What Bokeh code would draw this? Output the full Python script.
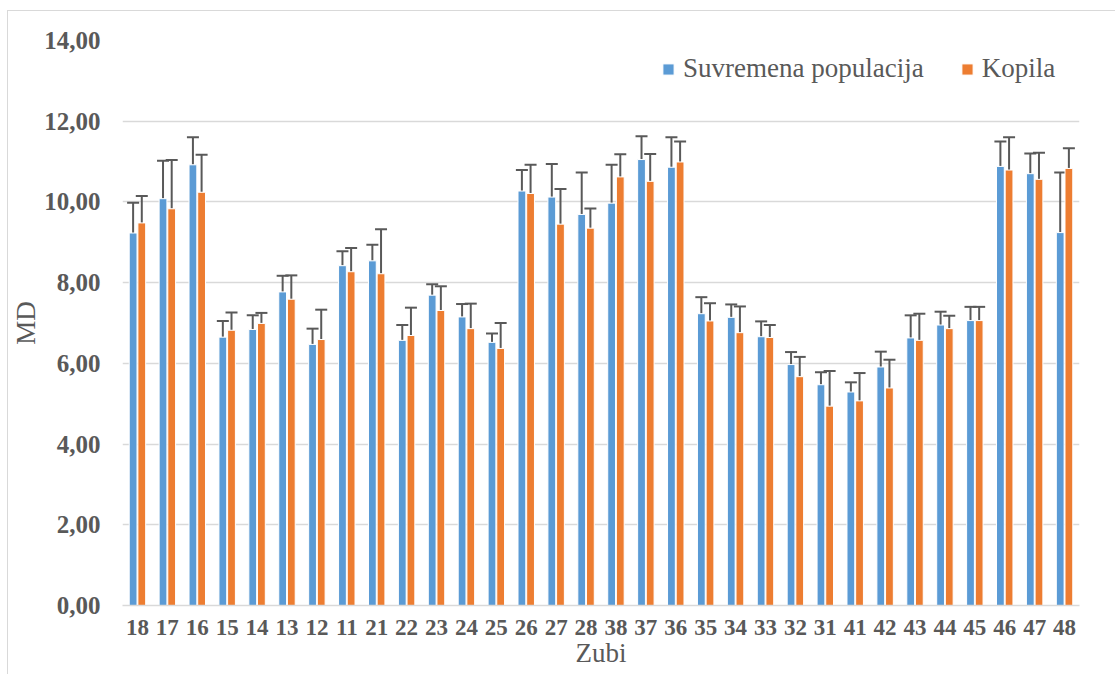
from bokeh.plotting import figure
from bokeh.models import (ColumnDataSource, FactorRange, Range1d, Whisker, TeeHead,
                          FixedTicker, Legend, LegendItem)
from bokeh.transform import dodge
from bokeh.embed import file_html
from bokeh.resources import INLINE

teeth = ["18", "17", "16", "15", "14", "13", "12", "11", "21", "22", "23", "24", "25", "26", "27", "28",
         "38", "37", "36", "35", "34", "33", "32", "31", "41", "42", "43", "44", "45", "46", "47", "48"]

modern_mean = [9.23, 10.08, 10.92, 6.65, 6.84, 7.77, 6.47, 8.42, 8.54, 6.57, 7.69, 7.15, 6.52, 10.27, 10.12, 9.69,
               9.97, 11.05, 10.86, 7.23, 7.14, 6.66, 5.97, 5.47, 5.29, 5.91, 6.63, 6.95, 7.06, 10.88, 10.70, 9.24]
modern_sd = [0.75, 0.94, 0.68, 0.40, 0.35, 0.40, 0.39, 0.36, 0.40, 0.38, 0.27, 0.32, 0.22, 0.52, 0.82, 1.04,
             0.95, 0.58, 0.74, 0.41, 0.32, 0.38, 0.31, 0.31, 0.24, 0.38, 0.56, 0.33, 0.34, 0.62, 0.50, 1.49]

kopila_mean = [9.48, 9.83, 10.24, 6.82, 6.99, 7.59, 6.59, 8.27, 8.22, 6.69, 7.31, 6.86, 6.37, 10.21, 9.45, 9.35,
               10.62, 10.51, 10.99, 7.05, 6.76, 6.64, 5.67, 4.94, 5.07, 5.39, 6.57, 6.86, 7.06, 10.79, 10.56, 10.83]
kopila_sd = [0.67, 1.21, 0.93, 0.44, 0.26, 0.59, 0.74, 0.59, 1.10, 0.69, 0.60, 0.62, 0.63, 0.71, 0.87, 0.49,
             0.56, 0.68, 0.51, 0.44, 0.65, 0.31, 0.49, 0.87, 0.69, 0.70, 0.66, 0.32, 0.34, 0.81, 0.66, 0.50]

series_names = ["Suvremena populacija", "Kopila"]
y_ticks = [0, 2, 4, 6, 8, 10, 12, 14]
y_tick_labels = ["0,00", "2,00", "4,00", "6,00", "8,00", "10,00", "12,00", "14,00"]

BLUE = "#5B9BD5"
ORANGE = "#ED7D31"
GRAY = "#595959"
GRID = "#D9D9D9"
FONT = "Liberation Serif"

src = ColumnDataSource(dict(
    tooth=teeth,
    modern=modern_mean,
    modern_up=[m + s for m, s in zip(modern_mean, modern_sd)],
    kopila=kopila_mean,
    kopila_up=[m + s for m, s in zip(kopila_mean, kopila_sd)],
))

p = figure(x_range=FactorRange(factors=teeth, range_padding=0), y_range=Range1d(0, 14),
           width=1108, height=664, output_backend="svg", toolbar_location=None,
           min_border_left=109, min_border_right=37, min_border_top=29, min_border_bottom=70)
p.styles = {"border-top": "1px solid #D9D9D9", "border-left": "1px solid #D9D9D9",
            "margin-top": "10px", "margin-left": "7px"}

off = 0.145
bw = 0.26
r1 = p.vbar(x=dodge("tooth", -off, range=p.x_range), top="modern", width=bw, source=src,
            fill_color=BLUE, line_color="white", line_width=1)
r2 = p.vbar(x=dodge("tooth", off, range=p.x_range), top="kopila", width=bw, source=src,
            fill_color=ORANGE, line_color="white", line_width=1)

for base, lo, up in [(-off, "modern", "modern_up"), (off, "kopila", "kopila_up")]:
    w = Whisker(base=dodge("tooth", base, range=p.x_range), lower=lo, upper=up, source=src,
                line_color=GRAY, line_width=2,
                upper_head=TeeHead(size=12, line_color=GRAY, line_width=2), lower_head=None)
    p.add_layout(w)

legend = Legend(items=[LegendItem(label=series_names[0], renderers=[r1]),
                       LegendItem(label=series_names[1], renderers=[r2])],
                orientation="horizontal", location=(539, 521),
                glyph_width=14, glyph_height=14, label_standoff=8, spacing=36,
                margin=0, padding=6, border_line_color=None, background_fill_alpha=0,
                label_text_font=FONT, label_text_font_size="27px", label_text_color=GRAY)
p.add_layout(legend)

p.outline_line_color = None
p.xgrid.grid_line_color = None
p.ygrid.grid_line_color = GRID
p.ygrid.grid_line_width = 1.5

p.yaxis.ticker = FixedTicker(ticks=y_ticks)
p.yaxis.major_label_overrides = {t: l for t, l in zip(y_ticks, y_tick_labels)}
p.yaxis.axis_line_color = None
p.yaxis.major_tick_line_color = None
p.yaxis.minor_tick_line_color = None
p.yaxis.major_tick_out = 0
p.yaxis.minor_tick_out = 0
p.yaxis.major_label_standoff = 22
p.yaxis.axis_label = "MD"
p.yaxis.axis_label_standoff = 0
p.yaxis.major_label_text_font_size = "25px"

p.xaxis.axis_line_color = GRID
p.xaxis.axis_line_width = 1.5
p.xaxis.major_tick_line_color = None
p.xaxis.major_tick_out = 0
p.xaxis.major_label_standoff = 14
p.xaxis.axis_label = "Zubi"
p.xaxis.axis_label_standoff = 0
p.xaxis.major_label_text_font_size = "23px"

for ax in (p.xaxis, p.yaxis):
    ax.major_label_text_font = FONT
    ax.major_label_text_font_style = "bold"
    ax.major_label_text_color = GRAY
    ax.axis_label_text_font = FONT
    ax.axis_label_text_font_size = "27px"
    ax.axis_label_text_font_style = "normal"
    ax.axis_label_text_color = GRAY

p.background_fill_color = "white"
p.border_fill_color = "white"

open("out.html", "w").write(file_html(p, INLINE))
